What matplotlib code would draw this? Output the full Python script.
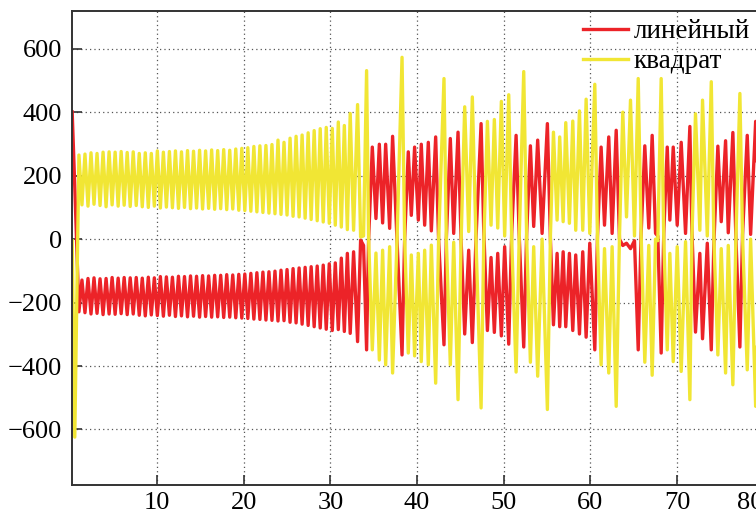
import numpy as np
import matplotlib.pyplot as plt

plt.rcParams['font.family'] = ['Liberation Serif', 'DejaVu Serif']

# start of the run (two first samples)
x_head = [0.2, 0.5]
lin_head = [401, 165]
kv_head = [-5, -624]

# steady part: alternating low/high samples
lin_reg = [-229, -129, -232, -124, -236, -122, -234, -125, -238, -124,
           -236, -121, -237, -123, -235, -121, -238, -122, -236, -121,
           -240, -123, -242, -120, -239, -122, -241, -118, -243, -119,
           -240, -120, -244, -117, -242, -118, -245, -116, -243, -117,
           -246, -115, -244, -116, -246, -114, -245, -114, -247, -112,
           -246, -113, -248, -111, -249, -110, -250, -108, -252, -106,
           -253, -104, -255, -103, -256, -101, -258, -98, -257, -96,
           -262, -93, -264, -91, -268, -89, -272, -87, -276, -85,
           -280, -82, -284, -78, -288, -75, -285, -60, -291, -45]
kv_reg = [265, 108, 268, 104, 272, 110, 270, 106, 274, 102,
          275, 108, 274, 104, 276, 107, 273, 103, 275, 106,
          270, 102, 272, 100, 270, 104, 278, 98, 274, 101,
          276, 99, 278, 97, 275, 100, 279, 96, 277, 98,
          280, 95, 278, 97, 281, 94, 279, 96, 282, 93,
          280, 95, 284, 91, 286, 90, 288, 88, 292, 86,
          294, 84, 295, 82, 298, 80, 312, 78, 305, 76,
          318, 72, 324, 70, 328, 66, 335, 62, 342, 58,
          348, 54, 352, 50, 349, 44, 369, 38, 358, 30]
x_reg = np.linspace(0.98, 31.95, len(lin_reg))

# irregular part (positions)
x_irr = [32.28, 32.67, 33.13, 33.48, 33.82, 34.17, 34.40, 34.83, 35.25, 35.64,
         36.02, 36.37, 36.83, 37.17, 37.68, 38.26, 38.56, 38.98, 39.33, 39.71,
         40.14, 40.48, 40.87, 41.29, 41.64, 42.14, 42.48, 43.10, 43.37, 43.83,
         44.22, 44.72, 45.07, 45.49, 45.95, 46.37, 46.80, 47.38, 47.68, 48.11,
         48.53, 48.91, 49.30, 49.72, 50.10, 50.57, 50.91, 51.42, 51.77, 52.30,
         52.64, 53.07, 53.45, 53.91, 54.42, 55.03, 55.38, 55.73, 56.15, 56.45,
         56.85, 57.15, 57.57, 57.96, 58.30, 58.73, 59.11, 59.50, 59.92, 60.50,
         60.81, 61.23, 61.62, 62.11, 62.50, 62.97, 63.35, 63.73, 64.16, 64.62,
         65.08, 65.51, 65.85, 66.27, 66.73, 67.12, 67.51, 67.77, 68.16, 68.46,
         68.86, 69.16, 69.55, 70.01, 70.47, 70.97, 71.47, 71.70, 72.12, 72.62,
         72.93, 73.48, 73.94, 74.24, 74.70, 75.09, 75.59, 75.90, 76.43, 76.78,
         77.24, 77.55, 78.09, 78.48, 79.06, 79.50]
lin_irr = [-297, -40, -323, -3, -20, -349, -3, 290, 65, 299,
           51, 299, 34, 324, -3, -365, 0, 275, 75, 290,
           60, 299, 44, 305, 26, 322, -3, -333, 0, 317,
           18, 337, 0, -299, -35, -326, 7, 364, 35, -288,
           -58, -294, -45, -305, -24, -331, 18, 327, 18, -340,
           18, 294, 40, 312, 18, 364, 0, -270, -45, -276,
           -40, -276, -45, -288, -50, -299, -40, -309, -13, -349,
           7, 290, 44, 322, 18, 343, 0, -20, -13, -30,
           -5, -349, 20, 294, 35, 327, 18, 10, -359, 20,
           290, 60, 290, 44, 305, 18, 355, 30, -293, -45,
           -314, -13, -349, -13, 293, 55, 310, 20, 336, 5,
           -340, 15, 327, 15, 371, 20]
kv_irr = [396, 28, 424, 7, 10, 531, 7, -349, -44, -381,
          -35, -396, -24, -422, -3, 573, 0, -359, -50, -368,
          -45, -386, -35, -396, -19, -454, -3, 506, 0, -396,
          -10, -506, -10, 417, 24, 448, -10, -532, -24, 371,
          44, 377, 35, 434, 10, 455, 0, -419, -8, 528,
          0, -388, -24, -432, 0, -537, 10, 337, 60, 322,
          55, 367, 50, 372, 28, 404, 28, 441, 18, 488,
          0, -396, -30, -422, -24, -527, 10, 400, 70, 438,
          10, 506, 10, -388, -20, -429, 0, -5, 506, 0,
          -349, -45, -386, -24, -417, -8, -506, 0, 395, 28,
          438, 10, 496, 0, -365, -30, -422, -20, -459, 0,
          459, 5, -412, 0, -527, 0]

x = np.concatenate([x_head, x_reg, x_irr])
lin = np.concatenate([lin_head, lin_reg, lin_irr])
kv = np.concatenate([kv_head, kv_reg, kv_irr])

fig = plt.figure(figsize=(7.56, 5.14), dpi=100)
x0, x1 = 0.18, 81
ax = fig.add_axes([72 / 756, 29 / 514, (x1 - x0) * 8.667 / 756, 474 / 514])

ax.plot(x, lin, color='#ec2328', lw=2.4, label='линейный')
ax.plot(x, kv, color='#f1e634', lw=2.4, label='квадрат')

ax.set_xlim(x0, x1)
ax.set_ylim(-775, 719)
ax.set_xticks([10, 20, 30, 40, 50, 60, 70, 80])
ax.set_yticks([-600, -400, -200, 0, 200, 400, 600])
ax.grid(True, linestyle=(0, (1, 2.5)), color='#555555', linewidth=0.9)

for s in ['left', 'bottom', 'top']:
    ax.spines[s].set_color('#333333')
    ax.spines[s].set_linewidth(1.4)
ax.spines['right'].set_visible(False)
ax.tick_params(direction='in', length=7, width=1.2, color='#333333',
               labelsize=19, pad=7, top=False, right=False)
ax.tick_params(axis='x', pad=5)

for lbl in ax.get_xticklabels():
    if lbl.get_text() == '80':
        lbl.set_horizontalalignment('right')

ax.legend(loc='upper right', bbox_to_anchor=(750 / 756, 1 - 19 / 514),
          bbox_transform=fig.transFigure, frameon=False, fontsize=19.5,
          handlelength=1.67, handletextpad=0.2, labelspacing=0.2,
          borderpad=0, borderaxespad=0)

fig.savefig('out.png', dpi=100)
